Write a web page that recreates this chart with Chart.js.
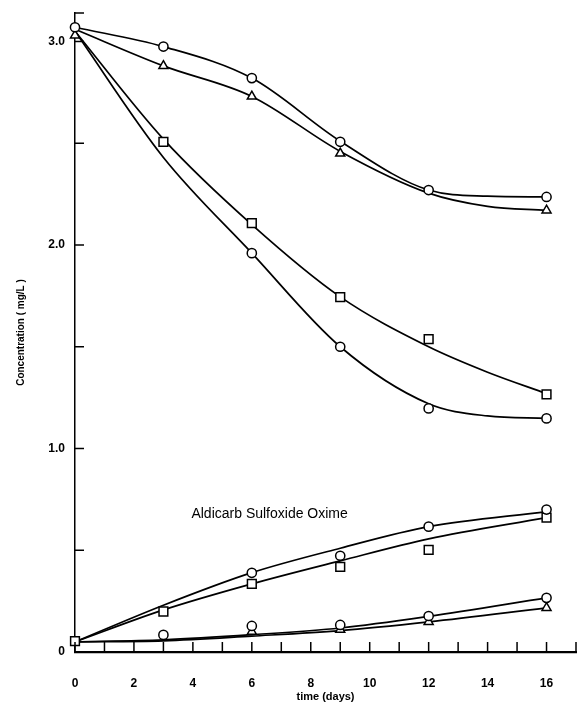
<!DOCTYPE html>
<html>
<head>
<meta charset="utf-8">
<script src="https://cdn.jsdelivr.net/npm/chart.js@4.4.0/dist/chart.umd.min.js"></script>
<style>
  html, body { margin: 0; padding: 0; background: #fff; }
  #wrap { width: 578px; height: 704px; }
</style>
</head>
<body>
<div id="wrap"><canvas id="chart" width="578" height="704"></canvas></div>
<script>
// fitted curves
const curveDays = [0, 3, 6, 9, 12, 14, 16];
const curveCircleTop = [3.07, 2.975, 2.82, 2.51, 2.27, 2.24, 2.236];
const curveTriangleTop = [3.06, 2.88, 2.73, 2.46, 2.255, 2.19, 2.17];
const curveSquareMid = [3.05, 2.52, 2.10, 1.745, 1.50, 1.375, 1.27];
const curveCircleMid = [3.05, 2.43, 1.96, 1.50, 1.22, 1.16, 1.148];

const oximeDays = [0, 3, 6, 9, 12, 16];
const curveOximeCircle = [0.05, 0.23, 0.39, 0.51, 0.616, 0.69];
const curveOximeSquare = [0.05, 0.207, 0.335, 0.448, 0.556, 0.66];
const curveLowCircle = [0.05, 0.06, 0.085, 0.118, 0.175, 0.266];
const curveLowTriangle = [0.05, 0.055, 0.078, 0.105, 0.148, 0.217];

// measured points
const circleTopDays = [0, 3, 6, 9, 12, 16];
const circleTopVals = [3.07, 2.975, 2.82, 2.507, 2.27, 2.236];
const triangleTopDays = [0, 3, 6, 9, 16];
const triangleTopVals = [3.03, 2.88, 2.73, 2.45, 2.17];
const squareMidDays = [3, 6, 9, 12, 16];
const squareMidVals = [2.507, 2.108, 1.744, 1.537, 1.266];
const circleMidDays = [6, 9, 12, 16];
const circleMidVals = [1.96, 1.50, 1.197, 1.148];

const oxCircleDays = [6, 9, 12, 16];
const oxCircleVals = [0.389, 0.473, 0.616, 0.70];
const oxSquareDays = [0, 3, 6, 9, 12, 16];
const oxSquareVals = [0.054, 0.199, 0.335, 0.418, 0.502, 0.66];
const lowCircleDays = [3, 6, 9, 12, 16];
const lowCircleVals = [0.084, 0.128, 0.133, 0.177, 0.266];
const lowTriangleDays = [6, 9, 12, 16];
const lowTriangleVals = [0.10, 0.11, 0.148, 0.217];

const yLabels = { 0: '0', 1: '1.0', 2: '2.0', 3: '3.0' };
const xLabels = [0, 2, 4, 6, 8, 10, 12, 14, 16];
const noteText = 'Aldicarb Sulfoxide Oxime';
const notePos = { x: 3.95, y: 0.675 };

const pairs = (xs, ys) => xs.map((x, i) => ({ x: x, y: ys[i] }));

function curve(xs, ys) {
    return {
        data: pairs(xs, ys),
        showLine: true,
        borderColor: '#000',
        borderWidth: 1.7,
        pointRadius: 0,
        cubicInterpolationMode: 'monotone',
        clip: false,
        order: 2
    };
}

function marks(xs, ys, style) {
    const r = style === 'rect' ? 6.2 : (style === 'triangle' ? 5.2 : 4.6);
    return {
        data: pairs(xs, ys),
        showLine: false,
        pointStyle: style,
        pointRadius: r,
        pointBackgroundColor: '#fff',
        pointBorderColor: '#000',
        pointBorderWidth: 1.5,
        clip: false,
        order: 1
    };
}

// tick marks pointing into the plot, plus the in-plot label
const innerTicks = {
    id: 'innerTicks',
    afterDraw(chart) {
        const ctx = chart.ctx;
        const x = chart.scales.x, y = chart.scales.y;
        ctx.save();
        ctx.strokeStyle = '#000';
        ctx.lineWidth = 1.5;
        y.ticks.forEach(t => {
            const py = y.getPixelForValue(t.value);
            ctx.beginPath();
            ctx.moveTo(x.left, py);
            ctx.lineTo(x.left + 9, py);
            ctx.stroke();
        });
        x.ticks.forEach(t => {
            const px = x.getPixelForValue(t.value);
            ctx.beginPath();
            ctx.moveTo(px, y.bottom);
            ctx.lineTo(px, y.bottom - 10);
            ctx.stroke();
        });
        ctx.fillStyle = '#000';
        ctx.font = '14px "Liberation Sans", Arial, sans-serif';
        ctx.textBaseline = 'middle';
        ctx.fillText(noteText, x.getPixelForValue(notePos.x), y.getPixelForValue(notePos.y));
        ctx.restore();
    }
};

new Chart(document.getElementById('chart'), {
    type: 'scatter',
    data: {
        datasets: [
            marks(circleTopDays, circleTopVals, 'circle'),
            marks(triangleTopDays, triangleTopVals, 'triangle'),
            marks(squareMidDays, squareMidVals, 'rect'),
            marks(circleMidDays, circleMidVals, 'circle'),
            marks(oxCircleDays, oxCircleVals, 'circle'),
            marks(oxSquareDays, oxSquareVals, 'rect'),
            marks(lowCircleDays, lowCircleVals, 'circle'),
            marks(lowTriangleDays, lowTriangleVals, 'triangle'),
            curve(curveDays, curveCircleTop),
            curve(curveDays, curveTriangleTop),
            curve(curveDays, curveSquareMid),
            curve(curveDays, curveCircleMid),
            curve(oximeDays, curveOximeCircle),
            curve(oximeDays, curveOximeSquare),
            curve(oximeDays, curveLowCircle),
            curve(oximeDays, curveLowTriangle)
        ]
    },
    options: {
        responsive: false,
        animation: false,
        layout: { autoPadding: false, padding: { top: 13, right: 1, left: 0, bottom: 0 } },
        plugins: {
            legend: { display: false },
            tooltip: { enabled: false }
        },
        scales: {
            x: {
                type: 'linear',
                min: 0,
                max: 17,
                afterFit: s => { s.height = 52; },
                border: { display: true, color: '#000', width: 2.2 },
                // grid hidden, tick length only used to push labels down
                grid: { display: false, drawTicks: true, tickLength: 22 },
                ticks: {
                    stepSize: 1,
                    autoSkip: false,
                    maxRotation: 0,
                    padding: 2,
                    color: '#000',
                    font: { family: '"Liberation Sans", Arial, sans-serif', size: 12, weight: 'bold' },
                    callback: v => xLabels.includes(v) ? String(v) : ''
                },
                title: {
                    display: true,
                    text: 'time (days)',
                    color: '#000',
                    padding: { top: 0, bottom: 0 },
                    font: { family: '"Liberation Sans", Arial, sans-serif', size: 11, weight: 'bold' }
                }
            },
            y: {
                type: 'linear',
                min: 0,
                max: 3.14,
                afterFit: s => { s.width = 75; },
                border: { display: true, color: '#000', width: 1.5 },
                grid: { display: false, drawTicks: true, tickLength: 8 },
                ticks: {
                    stepSize: 0.5,
                    padding: 2,
                    color: '#000',
                    font: { family: '"Liberation Sans", Arial, sans-serif', size: 12, weight: 'bold' },
                    callback: v => (v in yLabels) ? yLabels[v] : ''
                },
                title: {
                    display: true,
                    text: 'Concentration ( mg/L )',
                    color: '#000',
                    padding: { top: 15, bottom: 0 },
                    font: { family: '"Liberation Sans", Arial, sans-serif', size: 10, weight: 'bold' }
                }
            }
        }
    },
    plugins: [innerTicks]
});
</script>
</body>
</html>
